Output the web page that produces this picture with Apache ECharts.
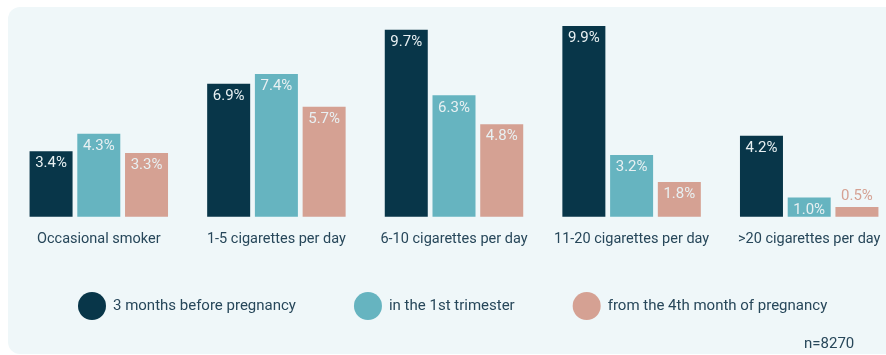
<!DOCTYPE html>
<html>
<head>
<meta charset="utf-8">
<script src="https://cdn.jsdelivr.net/npm/echarts@6/dist/echarts.min.js"></script>
<style>
html,body{margin:0;padding:0;background:#ffffff;}
#chart{width:886px;height:355px;}
</style>
</head>
<body>
<div id="chart"></div>
<script>
const categories = ["Occasional smoker", "1-5 cigarettes per day", "6-10 cigarettes per day", "11-20 cigarettes per day", ">20 cigarettes per day"];
const seriesNames = ["3 months before pregnancy", "in the 1st trimester", "from the 4th month of pregnancy"];
const before = [3.4, 6.9, 9.7, 9.9, 4.2];
const firstTrimester = [4.3, 7.4, 6.3, 3.2, 1.0];
const fromFourthMonth = [3.3, 5.7, 4.8, 1.8, 0.5];
const note = "n=8270";

const colors = ["#083649", "#66b4c0", "#d5a193"];
const font = "Roboto, 'Noto Sans', sans-serif";

function makeSeries(name, data, color) {
  return {
    name: name,
    type: "bar",
    barWidth: 43,
    barGap: "11%",
    itemStyle: { color: color },
    data: data.map(v => {
      const small = v < 0.8;
      return {
        value: v,
        label: {
          show: true,
          position: small ? "top" : "insideTop",
          distance: small ? 3 : 5,
          color: small ? color : "#e8f0f2",
          fontSize: 15,
          fontFamily: font,
          formatter: p => p.value.toFixed(1) + "%"
        }
      };
    })
  };
}

const chart = echarts.init(document.getElementById("chart"), null, { renderer: "canvas" });
chart.setOption({
  backgroundColor: "#ffffff",
  animation: false,
  graphic: [
    { type: "rect", z: -10, shape: { x: 8, y: 7, width: 900, height: 347, r: 12 }, style: { fill: "#eff7f9" } },
    { type: "text", left: 804, top: 337, style: { text: note, fill: "#27475a", font: "15px Roboto, sans-serif" } }
  ],
  grid: { left: 10, width: 888, top: 24, bottom: 138.3, containLabel: false, outerBoundsMode: "none" },
  xAxis: {
    type: "category",
    data: categories,
    axisLine: { show: false },
    axisTick: { show: false },
    axisLabel: { color: "#27475a", fontSize: 14.5, fontFamily: font, margin: 15, interval: 0 }
  },
  yAxis: {
    type: "value",
    min: 0,
    max: 10,
    show: false,
    splitLine: { show: false }
  },
  legend: {
    left: 78,
    top: 292,
    padding: 0,
    icon: "circle",
    itemWidth: 28,
    itemHeight: 28,
    itemGap: 58,
    textStyle: { color: "#27475a", fontSize: 15, fontFamily: font, padding: [0, 0, 0, 2] },
    data: seriesNames
  },
  series: [
    makeSeries(seriesNames[0], before, colors[0]),
    makeSeries(seriesNames[1], firstTrimester, colors[1]),
    makeSeries(seriesNames[2], fromFourthMonth, colors[2])
  ]
});
</script>
</body>
</html>
